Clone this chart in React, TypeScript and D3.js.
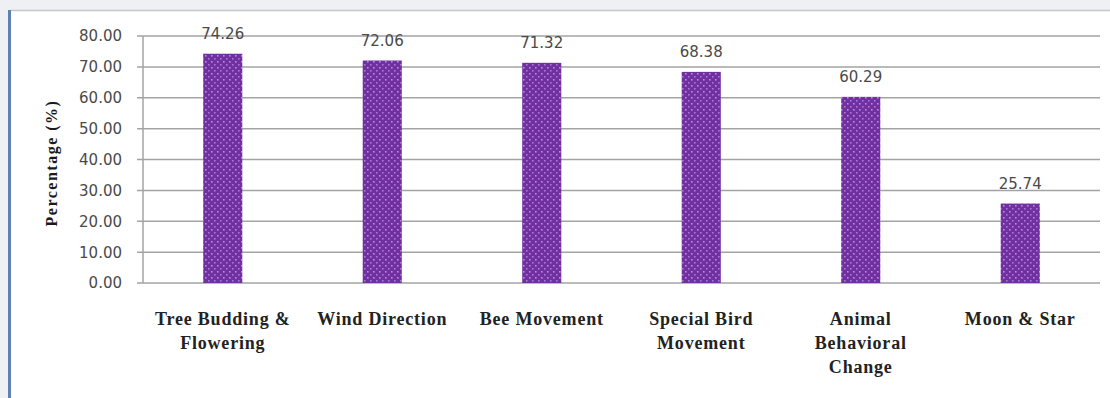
import React from "react";
import * as d3 from "d3";

const categories: string[][] = [
  ["Tree Budding &", "Flowering"],
  ["Wind Direction"],
  ["Bee Movement"],
  ["Special Bird", "Movement"],
  ["Animal", "Behavioral", "Change"],
  ["Moon & Star"],
];
const values: number[] = [74.26, 72.06, 71.32, 68.38, 60.29, 25.74];
const yTicks: number[] = [0, 10, 20, 30, 40, 50, 60, 70, 80];
const yTitle = "Percentage (%)";

const W = 1110;
const H = 398;
const left = 143;
const right = 1100;
const top = 36;
const bottom = 283;

export default function App() {
  const keys = categories.map((_, i) => String(i));
  const x = d3.scaleBand<string>().domain(keys).range([left, right]).paddingInner(0.755).paddingOuter(0.3775);
  const y = d3.scaleLinear().domain([0, 80]).range([bottom, top]);
  const numFont = "'DejaVu Sans', sans-serif";
  const serif = "'Liberation Serif', 'Times New Roman', serif";

  return (
    <div style={{ position: "absolute", left: 0, top: 0 }}>
      <svg width={W} height={H} style={{ display: "block" }}>
        <defs>
          <pattern id="dots" width="6" height="6" patternUnits="userSpaceOnUse">
            <rect width="6" height="6" fill="#7030a0" />
            <rect x="1" y="1" width="1.6" height="1.6" fill="#b98ae0" />
            <rect x="4" y="4" width="1.6" height="1.6" fill="#a777d4" />
          </pattern>
        </defs>
        <rect width={W} height={H} fill="#eef0f3" />
        <rect x={11} y={11} width={W - 11} height={H - 11} fill="#ffffff" />
        <line x1={11} x2={W} y1={10.5} y2={10.5} stroke="#c4c7cc" strokeWidth={1.5} />
        <rect x={8} y={10} width={3} height={H - 10} fill="#5f80b4" />

        {yTicks.map((t) => (
          <g key={t}>
            <line x1={left - 6} x2={right} y1={y(t)} y2={y(t)} stroke="#a3a3a3" strokeWidth={1.5} />
            <text
              x={122}
              y={y(t)}
              dy="0.36em"
              textAnchor="end"
              fontFamily={numFont}
              fontSize={15}
              fill="#4a4a4a"
            >
              {t.toFixed(2)}
            </text>
          </g>
        ))}
        <line x1={left} x2={left} y1={top} y2={bottom} stroke="#a3a3a3" strokeWidth={1.5} />

        {values.map((v, i) => {
          const bx = x(String(i))!;
          const bw = x.bandwidth();
          return (
            <g key={i}>
              <rect x={bx} y={y(v)} width={bw} height={bottom - y(v)} fill="url(#dots)" />
              <text
                x={bx + bw / 2}
                y={y(v) - 15}
                textAnchor="middle"
                fontFamily={numFont}
                fontSize={15}
                fill="#4a4a4a"
              >
                {v.toFixed(2)}
              </text>
            </g>
          );
        })}

        {categories.map((lines, i) => {
          const cx = x(String(i))! + x.bandwidth() / 2;
          return (
            <text
              key={i}
              x={cx}
              y={325}
              textAnchor="middle"
              fontFamily={serif}
              fontWeight="bold"
              fontSize={18}
              letterSpacing={0.8}
              fill="#222"
            >
              {lines.map((l, j) => (
                <tspan key={j} x={cx} dy={j === 0 ? 0 : 24}>
                  {l}
                </tspan>
              ))}
            </text>
          );
        })}

        <text
          transform={`translate(57, 163) rotate(-90)`}
          textAnchor="middle"
          fontFamily={serif}
          fontWeight="bold"
          fontSize={16}
          letterSpacing={1.5}
          fill="#1a1a1a"
        >
          {yTitle}
        </text>
      </svg>
    </div>
  );
}
